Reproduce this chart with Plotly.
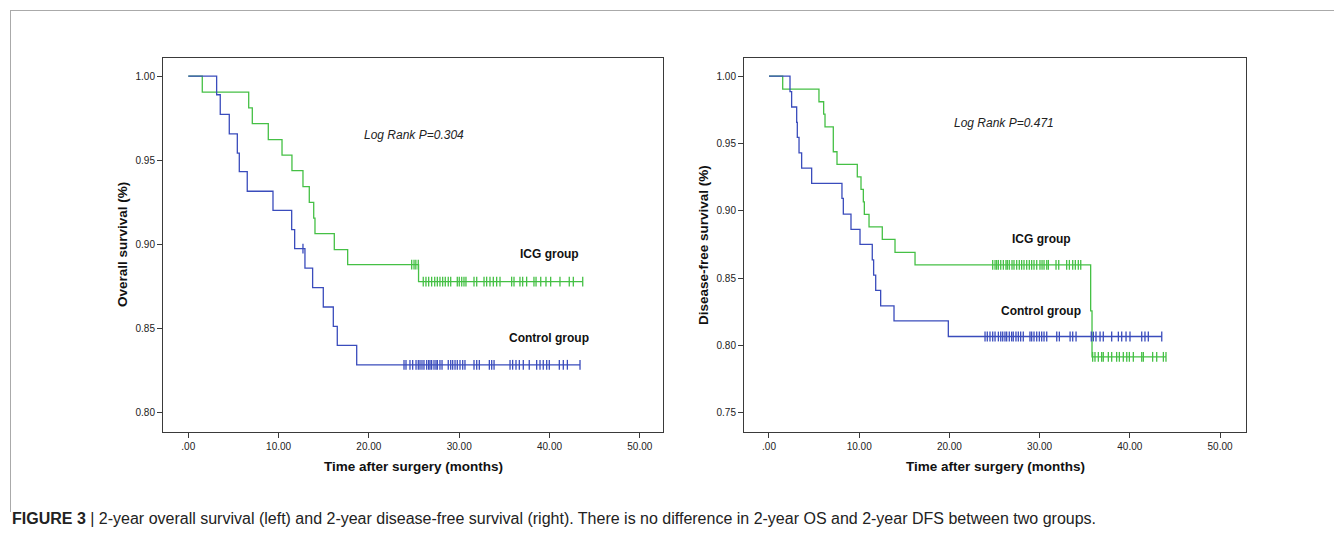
import plotly.graph_objects as go

# Page has an 8px body margin; figure is sized to fit the 1342x535 window
OFF = 8
W, H = 1342 - OFF, 535 - OFF

# ---------------- Data ----------------
# Overall survival - ICG group
os_icg_event_t = [0, 1.55, 6.69, 7.09, 8.86, 10.38, 11.48, 12.70, 13.40, 13.89, 14.03, 16.17, 17.65, 25.5]
os_icg_event_s = [1.0, 0.9905, 0.9811, 0.9718, 0.9623, 0.9530, 0.9439, 0.9343, 0.9250, 0.9157, 0.9064, 0.8970, 0.8880, 0.8780]
os_icg_cens_t = [24.74, 25.0, 25.2, 25.47,
                 26.02, 26.32, 26.62, 26.95, 27.29, 27.58, 27.87, 28.17, 28.46, 28.79, 29.06, 29.79, 30.01,
                 30.28, 30.53, 30.75, 31.64, 31.94, 32.75, 33.04, 33.41, 33.78, 34.15, 34.52, 35.81, 36.07,
                 36.73, 37.03, 37.47, 38.28, 38.51, 39.03, 39.61, 40.13, 41.16, 42.19, 42.64, 43.68]

# Overall survival - Control group
os_ctl_event_t = [0, 3.14, 3.54, 4.54, 5.43, 5.65, 6.53, 9.38, 11.45, 11.78, 12.92, 13.77, 14.95, 16.06, 16.5, 18.65]
os_ctl_event_s = [1.0, 0.9889, 0.9772, 0.9657, 0.9542, 0.9433, 0.9316, 0.9202, 0.9088, 0.8976, 0.8860, 0.8744,
                  0.8629, 0.8514, 0.8401, 0.8286]
os_ctl_cens_t = [12.70,
                 23.89, 24.11, 24.55, 24.85, 25.22, 25.47, 25.66, 25.88, 26.10, 26.40, 26.62, 26.77, 26.95,
                 27.21, 27.43, 27.58, 27.87, 28.10, 28.79, 29.06, 29.28, 29.54, 29.79, 30.09, 30.39, 30.64,
                 31.64, 31.94, 32.23, 33.34, 33.60, 33.86, 35.63, 35.92, 36.29, 36.66, 37.10, 37.76, 38.58,
                 38.95, 39.31, 39.69, 39.98, 41.09, 41.53, 41.98, 43.38]

# Disease-free survival - ICG group
dfs_icg_event_t = [0, 1.52, 5.54, 6.06, 6.21, 7.13, 7.54, 9.79, 10.20, 10.46, 10.57, 11.09, 12.56, 13.97, 16.19,
                   35.66, 35.81]
dfs_icg_event_s = [1.0, 0.9903, 0.9809, 0.9718, 0.9623, 0.9438, 0.9344, 0.9252, 0.9158, 0.9066, 0.8973, 0.8880,
                   0.8787, 0.8690, 0.8598, 0.8256, 0.7915]
dfs_icg_cens_t = [24.80, 25.06, 25.24, 25.43, 25.69, 25.98, 26.27, 26.42, 26.64, 26.94, 27.16, 27.46, 27.75,
                  28.01, 28.27, 28.57, 28.86, 29.12, 29.38, 29.68, 30.04, 30.27, 30.49, 30.79, 30.97, 31.82,
                  32.12, 33.00, 33.30, 33.67, 33.96, 34.29, 34.56,
                  35.88, 36.14, 36.51, 36.88, 37.06, 37.62, 37.99, 38.54, 38.84, 39.28, 39.66, 39.95, 40.39,
                  41.32, 41.50, 42.53, 42.98, 43.72, 44.01]

# Disease-free survival - Control group
dfs_ctl_event_t = [0, 2.33, 2.51, 3.07, 3.14, 3.33, 3.62, 4.73, 8.09, 8.24, 9.09, 10.09, 11.45, 11.6, 11.83,
                   12.38, 13.86, 19.88]
dfs_ctl_event_s = [1.0, 0.9884, 0.9770, 0.9656, 0.9545, 0.9430, 0.9316, 0.9203, 0.9091, 0.8975, 0.8861, 0.8750,
                   0.8635, 0.8522, 0.8408, 0.8293, 0.8182, 0.8066]
dfs_ctl_cens_t = [23.95, 24.20, 24.50, 24.80, 25.06, 25.43, 25.69, 25.91, 26.16, 26.35, 26.64, 26.90, 27.08,
                  27.38, 27.64, 27.90, 28.19, 28.93, 29.12, 29.38, 29.68, 29.97, 30.23, 30.49, 30.79, 31.90,
                  32.19, 33.38, 33.67, 34.04, 35.73, 35.96, 36.25, 36.70, 37.06, 37.99, 38.73, 39.10, 39.58,
                  40.02, 41.32, 41.68, 42.05, 43.54]

x_tick_vals = [0, 10, 20, 30, 40, 50]
x_tick_text = [".00", "10.00", "20.00", "30.00", "40.00", "50.00"]
os_y_ticks = [0.80, 0.85, 0.90, 0.95, 1.00]
dfs_y_ticks = [0.75, 0.80, 0.85, 0.90, 0.95, 1.00]

GREEN = "#45c045"
BLUE = "#3a4cbc"
AXC = "#3a3a3a"
FONT = "Liberation Sans, Arial, sans-serif"


def km_curve(ev_t, ev_s, cens_t):
    """Step curve: extend to the last censoring time."""
    xs = list(ev_t)
    ys = list(ev_s)
    end = max(cens_t + ev_t)
    xs.append(end)
    ys.append(ys[-1])
    return xs, ys


def surv_at(ev_t, ev_s, t):
    s = ev_s[0]
    for ti, si in zip(ev_t, ev_s):
        if ti <= t:
            s = si
    return s


fig = go.Figure()


def add_group(ev_t, ev_s, cens_t, color, xa, ya):
    xs, ys = km_curve(ev_t, ev_s, cens_t)
    fig.add_trace(go.Scatter(x=xs, y=ys, mode="lines", line=dict(shape="hv", color=color, width=1.3),
                             xaxis=xa, yaxis=ya, showlegend=False, hoverinfo="skip"))
    cy = [surv_at(ev_t, ev_s, t) for t in cens_t]
    fig.add_trace(go.Scatter(x=cens_t, y=cy, mode="markers",
                             marker=dict(symbol="line-ns-open", size=7, color=color,
                                         line=dict(color=color, width=1.3)),
                             xaxis=xa, yaxis=ya, showlegend=False, hoverinfo="skip"))


add_group(os_icg_event_t, os_icg_event_s, os_icg_cens_t, GREEN, "x", "y")
add_group(os_ctl_event_t, os_ctl_event_s, os_ctl_cens_t, BLUE, "x", "y")
add_group(dfs_icg_event_t, dfs_icg_event_s, dfs_icg_cens_t, GREEN, "x2", "y2")
add_group(dfs_ctl_event_t, dfs_ctl_event_s, dfs_ctl_cens_t, BLUE, "x2", "y2")


def px_x(p):
    return (p - OFF) / W


def px_y(p):
    return 1 - (p - OFF) / H


axis_common = dict(showline=True, linecolor=AXC, linewidth=1, mirror=True, ticks="outside", ticklen=5,
                   tickcolor=AXC, tickwidth=1, showgrid=False, zeroline=False,
                   tickfont=dict(family=FONT, size=10, color="#222"))

fig.update_layout(
    width=W, height=H, margin=dict(l=0, r=0, t=0, b=0),
    paper_bgcolor="white", plot_bgcolor="white",
    xaxis=dict(domain=[px_x(163), px_x(663)], range=[-2.8, 52.57], anchor="y",
               tickvals=x_tick_vals, ticktext=x_tick_text, **axis_common),
    yaxis=dict(domain=[px_y(432), px_y(58)], range=[0.7887, 1.0107], anchor="x",
               tickvals=os_y_ticks, ticktext=[f"{v:.2f}" for v in os_y_ticks], **axis_common),
    xaxis2=dict(domain=[px_x(744), px_x(1246)], range=[-2.77, 52.88], anchor="y2",
                tickvals=x_tick_vals, ticktext=x_tick_text, **axis_common),
    yaxis2=dict(domain=[px_y(432), px_y(58)], range=[0.7357, 1.0134], anchor="x2",
                tickvals=dfs_y_ticks, ticktext=[f"{v:.2f}" for v in dfs_y_ticks], **axis_common),
)

TF = dict(family=FONT, size=13.5, color="#111")
LF = dict(family=FONT, size=12, color="#111")
ann = []


def add_text(text, xp, yp, font, xanchor="center", angle=0):
    ann.append(dict(text=text, x=px_x(xp), y=px_y(yp), xref="paper", yref="paper",
                    xanchor=xanchor, yanchor="middle", showarrow=False, textangle=angle, font=font))


# Axis titles
add_text("<b>Time after surgery (months)</b>", 413, 466, TF)
add_text("<b>Time after surgery (months)</b>", 995, 466, TF)
add_text("<b>Overall survival (%)</b>", 122, 245, TF, angle=-90)
add_text("<b>Disease-free survival (%)</b>", 703, 245, TF, angle=-90)
# In-plot labels
add_text("<i>Log Rank P=0.304</i>", 362, 135, dict(family=FONT, size=12, color="#222"), xanchor="left")
add_text("<i>Log Rank P=0.471</i>", 952, 123, dict(family=FONT, size=12, color="#222"), xanchor="left")
add_text("<b>ICG group</b>", 549, 254, LF)
add_text("<b>Control group</b>", 549, 338, LF)
add_text("<b>ICG group</b>", 1041, 239, LF)
add_text("<b>Control group</b>", 1041, 311, LF)
# Caption
add_text("<b>FIGURE 3</b> | 2-year overall survival (left) and 2-year disease-free survival (right). "
         "There is no difference in 2-year OS and 2-year DFS between two groups.",
         10, 518, dict(family="Liberation Sans Narrow, Arial Narrow, Liberation Sans, sans-serif",
                       size=16, color="#222"), xanchor="left")
fig.update_layout(annotations=ann)

# Outer frame lines (top and left)
fig.add_shape(type="line", xref="paper", yref="paper", x0=px_x(10), x1=1, y0=px_y(10.5), y1=px_y(10.5),
              line=dict(color="#aaaaaa", width=1))
fig.add_shape(type="line", xref="paper", yref="paper", x0=px_x(10.5), x1=px_x(10.5), y0=px_y(10), y1=px_y(512),
              line=dict(color="#aaaaaa", width=1))

fig.write_html("out.html")
